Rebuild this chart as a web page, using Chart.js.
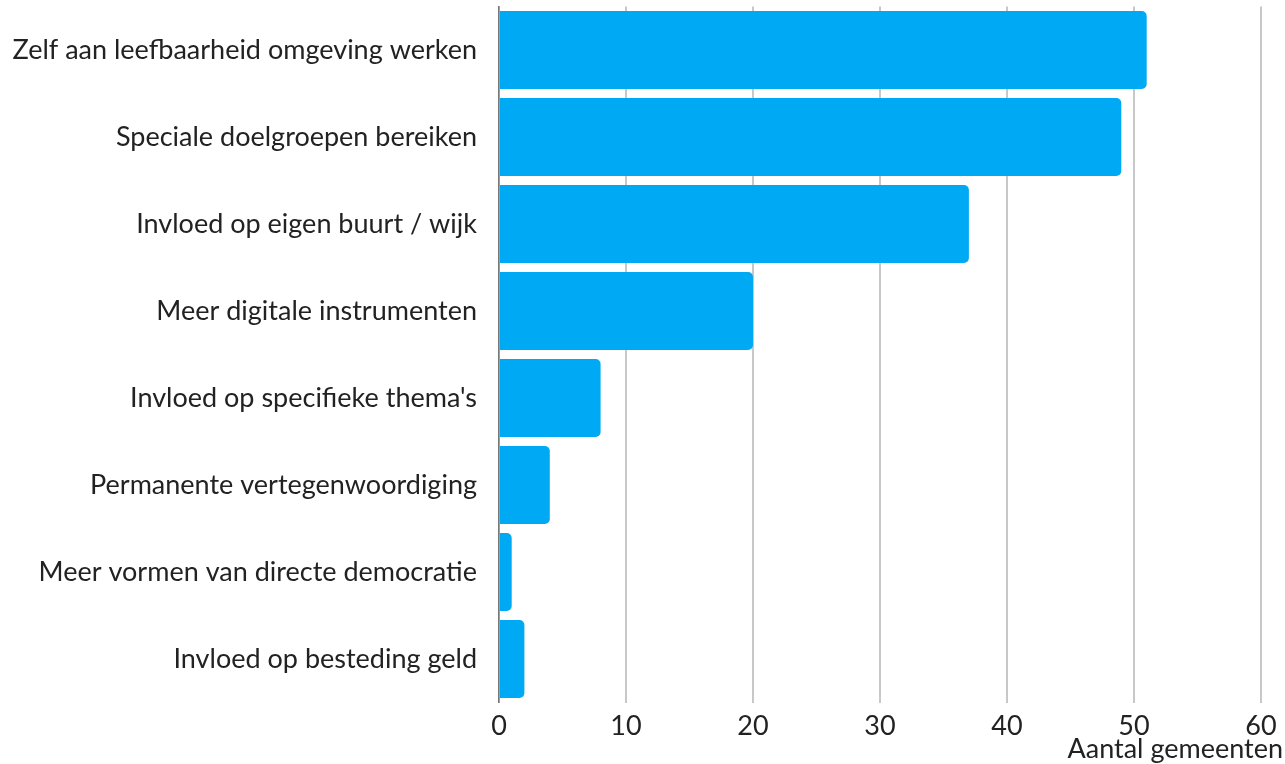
<!DOCTYPE html>
<html>
<head>
<meta charset="utf-8">
<script src="https://cdn.jsdelivr.net/npm/chart.js@4.4.1/dist/chart.umd.min.js"></script>
<style>
  html, body { margin: 0; padding: 0; background: #fff; }
  #wrap { width: 1285px; height: 764px; }
</style>
</head>
<body>
<div id="wrap"><canvas id="chart"></canvas></div>
<script>
// categories and counts, top to bottom
const categories = [
  'Zelf aan leefbaarheid omgeving werken',
  'Speciale doelgroepen bereiken',
  'Invloed op eigen buurt / wijk',
  'Meer digitale instrumenten',
  "Invloed op specifieke thema's",
  'Permanente vertegenwoordiging',
  'Meer vormen van directe democratie',
  'Invloed op besteding geld'
];
const counts = [51, 49, 37, 20, 8, 4, 1, 2];
const xTicks = [0, 10, 20, 30, 40, 50, 60];
const xTitle = 'Aantal gemeenten';

const font = { family: 'Lato, "Open Sans", sans-serif', size: 27 };

// axis title sits flush with the right edge of the picture, not the plot
const titlePlugin = {
  id: 'xTitle',
  afterDraw(chart) {
    const c = chart.ctx;
    c.save();
    c.font = `${font.size}px ${font.family}`;
    c.fillStyle = '#222';
    c.textAlign = 'right';
    c.textBaseline = 'middle';
    c.fillText(xTitle, chart.width - 2, chart.height - 15);
    c.restore();
  }
};

const ctx = document.getElementById('chart').getContext('2d');
new Chart(ctx, {
  type: 'bar',
  data: {
    labels: categories,
    datasets: [{
      data: counts,
      backgroundColor: '#00a9f4',
      borderRadius: { topRight: 5, bottomRight: 5 },
      borderSkipped: 'start',
      barPercentage: 0.896,
      categoryPercentage: 1
    }]
  },
  options: {
    indexAxis: 'y',
    responsive: true,
    maintainAspectRatio: false,
    animation: false,
    layout: { padding: { top: 6.5, right: 24, bottom: 14, left: 0 } },
    plugins: { legend: { display: false }, tooltip: { enabled: false } },
    scales: {
      x: {
        min: xTicks[0],
        max: xTicks[xTicks.length - 1],
        afterBuildTicks: (axis) => { axis.ticks = xTicks.map(v => ({ value: v })); },
        grid: { color: '#c8c8c8', lineWidth: 2, drawTicks: false },
        border: { display: false },
        ticks: { color: '#222', font: font, padding: 7.5, maxRotation: 0 },
        afterFit: (axis) => { axis.paddingLeft = 0; axis.paddingRight = 0; }
      },
      y: {
        grid: { display: false },
        border: { display: true, color: '#777', width: 1.5 },
        ticks: { color: '#222', font: font, padding: 14 },
        afterFit: (axis) => { axis.width = 499; axis.paddingTop = 0; axis.paddingBottom = 0; }
      }
    }
  },
  plugins: [titlePlugin]
});
</script>
</body>
</html>
